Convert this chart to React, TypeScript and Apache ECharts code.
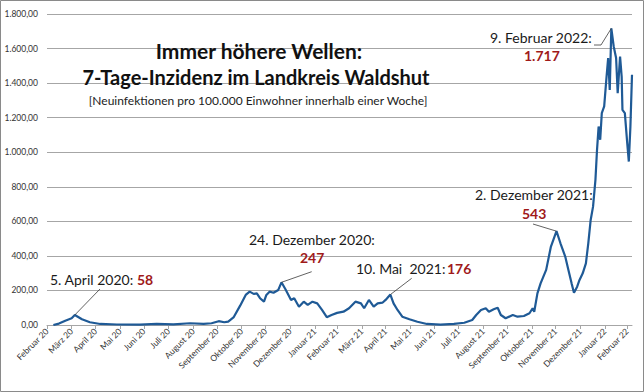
import { useEffect, useRef } from 'react';
import * as echarts from 'echarts';

const dates = [
  '2020-03-09', '2020-03-16', '2020-03-24', '2020-04-01', '2020-04-05', '2020-04-14', '2020-04-24',
  '2020-05-07', '2020-05-28', '2020-06-26', '2020-07-17', '2020-08-07', '2020-08-28', '2020-09-14',
  '2020-09-24', '2020-10-03', '2020-10-10', '2020-10-15', '2020-10-22', '2020-10-30', '2020-11-06',
  '2020-11-11', '2020-11-16', '2020-11-20', '2020-11-24', '2020-11-29', '2020-12-02', '2020-12-06',
  '2020-12-11', '2020-12-17', '2020-12-21', '2020-12-26',
  '2021-01-02', '2021-01-06', '2021-01-12', '2021-01-18', '2021-01-23', '2021-01-29', '2021-02-04',
  '2021-02-10', '2021-02-16', '2021-02-22', '2021-03-01', '2021-03-09', '2021-03-16', '2021-03-24',
  '2021-03-31', '2021-04-04', '2021-04-10', '2021-04-16', '2021-04-21', '2021-04-27', '2021-05-01',
  '2021-05-07', '2021-05-11', '2021-05-16', '2021-05-22', '2021-05-31', '2021-06-10', '2021-06-22',
  '2021-07-09', '2021-07-26', '2021-08-08', '2021-08-18', '2021-08-23', '2021-08-29', '2021-09-04',
  '2021-09-08', '2021-09-14', '2021-09-19', '2021-09-23', '2021-09-29', '2021-10-08', '2021-10-14',
  '2021-10-22', '2021-10-29', '2021-11-02', '2021-11-04', '2021-11-08', '2021-11-12', '2021-11-19',
  '2021-11-25', '2021-12-02', '2021-12-07', '2021-12-13', '2021-12-17', '2021-12-21', '2021-12-24',
  '2021-12-28', '2021-12-31',
  '2022-01-04', '2022-01-08', '2022-01-11', '2022-01-14', '2022-01-17', '2022-01-20', '2022-01-22',
  '2022-01-24', '2022-01-26', '2022-01-28', '2022-01-31', '2022-02-03', '2022-02-05', '2022-02-07',
  '2022-02-09', '2022-02-12', '2022-02-15', '2022-02-17', '2022-02-20', '2022-02-22', '2022-02-23',
  '2022-02-26', '2022-03-01', '2022-03-03', '2022-03-05', '2022-03-07',
];

const values = [
  0, 8, 25, 39, 58, 33, 16,
  6, 3, 2, 6, 4, 10, 6,
  10, 22, 16, 20, 46, 112, 174,
  193, 180, 183, 155, 135, 174, 193,
  187, 203, 247, 207,
  145, 155, 106, 135, 116, 135, 125,
  87, 45, 58, 70, 77, 97, 135,
  125, 97, 145, 106, 125, 129, 145,
  176, 125, 87, 48, 33, 19, 6,
  2, 6, 13, 29, 58, 87, 97,
  77, 91, 100, 58, 39, 58, 48,
  52, 68, 97, 77, 183, 241, 319,
  454, 543, 473, 396, 319, 241, 187,
  222, 261,
  299, 357, 473, 608, 685, 840, 1014,
  1149, 1072, 1226, 1265, 1438, 1545, 1361,
  1717, 1612, 1545, 1342, 1554, 1438, 1245,
  1226, 1053, 946, 1149, 1448,
];

const tickDates = [
  '2020-03-01', '2020-04-01', '2020-05-01', '2020-06-01', '2020-07-01', '2020-08-01', '2020-09-01',
  '2020-10-01', '2020-11-01', '2020-12-01', '2021-01-01', '2021-02-01', '2021-03-01', '2021-04-01',
  '2021-05-01', '2021-06-01', '2021-07-01', '2021-08-01', '2021-09-01', '2021-10-01', '2021-11-01',
  '2021-12-01', '2022-01-01', '2022-02-01', '2022-03-01',
];

const monthLabels = [
  'Februar 20', 'März 20', 'April 20', 'Mai 20', 'Juni 20', 'Juli 20', 'August 20', 'September 20',
  'Oktober 20', 'November 20', 'Dezember 20', 'Januar 21', 'Februar 21', 'März 21', 'April 21',
  'Mai 21', 'Juni 21', 'Juli 21', 'August 21', 'September 21', 'Oktober 21', 'November 21',
  'Dezember 21', 'Januar 22', 'Februar 22',
];

const axisStart = '2020-03-01';
const axisEnd = '2022-03-07';

const titleLines = ['Immer höhere Wellen:', '7-Tage-Inzidenz im Landkreis Waldshut'];
const subtitle = '[Neuinfektionen pro 100.000 Einwohner innerhalb einer Woche]';

const annotationDates = ['2020-04-05', '2020-12-21', '2021-05-07', '2021-12-02', '2022-02-09'];
const annotationTexts = ['5. April 2020:', '24. Dezember 2020:', '10. Mai  2021:', '2. Dezember 2021:', '9. Februar 2022:'];
const annotationValues = ['58', '247', '176', '543', '1.717'];

// day number (UTC based) of a YYYY-MM-DD string, counted from axisStart
const dayNum = (s: string) => {
  const [y, m, d] = s.split('-').map(Number);
  return Math.round(Date.UTC(y, m - 1, d) / 86400000);
};
const dayOf = (s: string) => dayNum(s) - dayNum(axisStart);

const fmtDe = (v: number) =>
  Math.round(v).toString().replace(/\B(?=(\d{3})+(?!\d))/g, '.') + ',00';

export default function App() {
  const ref = useRef<HTMLDivElement>(null);

  useEffect(() => {
    document.body.style.margin = '0';
    const chart = echarts.init(ref.current!, null, { renderer: 'svg' });
    const tickDays = tickDates.map(dayOf);
    const FONT = 'Lato, "Noto Sans", sans-serif';
    const gray = '#a6a6a6';

    chart.setOption({
      animation: false,
      backgroundColor: '#ffffff',
      grid: { left: 47, right: 12, top: 14, bottom: 67 },
      xAxis: {
        type: 'value',
        min: 0,
        max: dayOf(axisEnd),
        axisLine: { show: true, lineStyle: { color: gray, width: 1 } },
        axisTick: { show: true, length: 4, customValues: tickDays, lineStyle: { color: gray } },
        splitLine: { show: false },
        axisLabel: {
          customValues: tickDays,
          rotate: 45,
          margin: 5,
          fontSize: 8.5,
          fontFamily: FONT,
          color: '#333333',
          formatter: (value: number) => {
            const i = tickDays.indexOf(Math.round(value));
            return i >= 0 ? monthLabels[i] : '';
          },
        },
      },
      yAxis: {
        type: 'value',
        min: 0,
        max: 1800,
        interval: 200,
        axisLine: { show: false },
        axisTick: { show: false },
        splitLine: { lineStyle: { color: gray, width: 1 } },
        axisLabel: {
          margin: 9,
          fontSize: 8.5,
          fontFamily: FONT,
          color: '#333333',
          formatter: (v: number) => fmtDe(v),
        },
      },
      series: [
        {
          type: 'line',
          data: dates.map((d, i) => [dayOf(d), values[i]]),
          symbol: 'none',
          showSymbol: false,
          lineStyle: { color: '#1f5a96', width: 2.2 },
          itemStyle: { color: '#1f5a96' },
          z: 3,
        },
      ],
    });

    const peak = (k: number) => {
      const idx = dates.indexOf(annotationDates[k]);
      return chart.convertToPixel({ gridIndex: 0 }, [dayOf(dates[idx]), values[idx]]) as number[];
    };

    const txt = (text: string, x: number, y: number, font: string, fill = '#1a1a1a', align = 'left') => ({
      type: 'text',
      x,
      y,
      silent: true,
      z: 10,
      style: { text, font, fill, textAlign: align, textVerticalAlign: 'middle' },
    });
    const normal = `14px ${FONT}`;
    const bold = `bold 14px ${FONT}`;
    const red = '#a01a1a';
    const leader = (x1: number, y1: number, p: number[]) => ({
      type: 'line',
      silent: true,
      z: 9,
      shape: { x1, y1, x2: p[0], y2: p[1] },
      style: { stroke: '#3a3a3a', lineWidth: 0.8 },
    });

    const p0 = peak(0), p1 = peak(1), p2 = peak(2), p3 = peak(3), p4 = peak(4);

    chart.setOption({
      graphic: [
        {
          type: 'rect',
          silent: true,
          z: 20,
          shape: { x: 0.5, y: 0.5, width: 643, height: 391 },
          style: { fill: 'none', stroke: '#8a8a8a', lineWidth: 1 },
        },
        txt(titleLines[0], 259, 50, `bold 21px ${FONT}`, '#111', 'center'),
        txt(titleLines[1], 256, 77, `bold 20px ${FONT}`, '#111', 'center'),
        txt(subtitle, 258, 100, `12px ${FONT}`, '#222', 'center'),

        txt(annotationTexts[0], 50, 279, normal),
        txt(annotationValues[0], 137, 279, bold, red),
        leader(100, 289, p0),

        txt(annotationTexts[1], 249, 239, normal),
        txt(annotationValues[1], 300, 257, bold, red),
        leader(311.7, 271.7, p1),

        txt(annotationTexts[2], 356, 268, normal),
        txt(annotationValues[2], 447, 268, bold, red),
        leader(411.7, 278.3, p2),

        txt(annotationTexts[3], 475, 194, normal),
        txt(annotationValues[3], 522, 213, bold, red),
        leader(533, 224, p3),

        txt(annotationTexts[4], 490, 37, normal),
        txt(annotationValues[4], 524, 55, bold, red),
        {
          type: 'polyline',
          silent: true,
          z: 9,
          shape: { points: [[594, 45], [601, 45], [p4[0], p4[1]]] },
          style: { stroke: '#3a3a3a', lineWidth: 0.8, fill: 'none' },
        },
      ],
    });

    return () => chart.dispose();
  }, []);

  return (
    <div
      ref={ref}
      style={{ position: 'absolute', left: 0, top: 0, width: 644, height: 392 }}
    />
  );
}
